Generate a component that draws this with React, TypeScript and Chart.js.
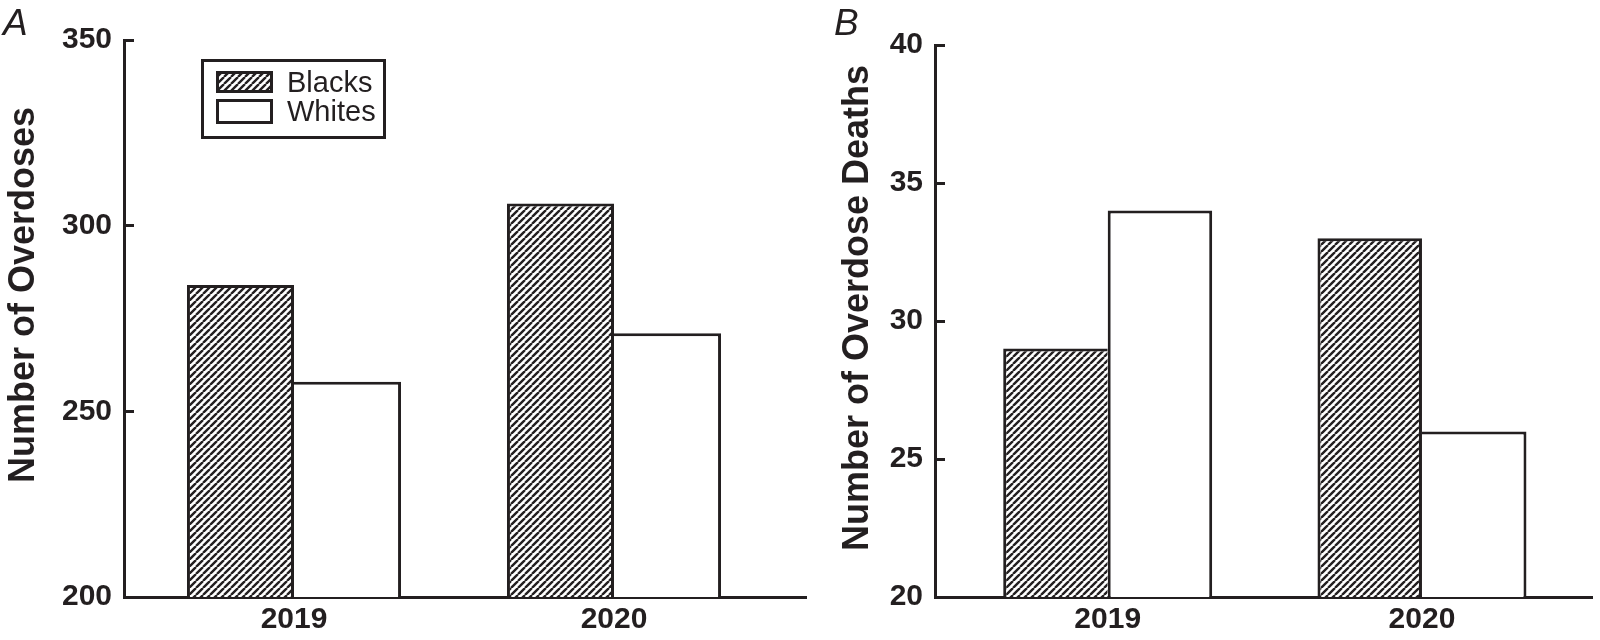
import React, { useEffect, useRef } from 'react';
import { Chart, registerables } from 'chart.js';

Chart.register(...registerables);

// ---------- data ----------
const years = [2019, 2020];
const seriesNames = ['Blacks', 'Whites'];
const overdosesBlacks = [284, 306];
const overdosesWhites = [258, 271];
const deathsBlacks = [29, 33];
const deathsWhites = [34, 26];
const overdoseTicks = [200, 250, 300, 350];
const deathTicks = [20, 25, 30, 35, 40];

// ---------- styles ----------
const INK = '#231f20';
const FONT = "'Liberation Sans', Arial, Helvetica, sans-serif";
const BW = 3;

function makeHatch(): CanvasPattern | string {
  const p = 7;
  const c = document.createElement('canvas');
  c.width = p;
  c.height = p;
  const g = c.getContext('2d');
  if (!g) return '#888';
  g.fillStyle = '#ffffff';
  g.fillRect(0, 0, p, p);
  g.strokeStyle = INK;
  g.lineWidth = 2.4;
  g.beginPath();
  for (const k of [-1, 0, 1]) {
    g.moveTo(k * p, p);
    g.lineTo(k * p + p, 0);
  }
  g.stroke();
  return g.createPattern(c, 'repeat') || '#888';
}

const decorPlugin = {
  id: 'panelDecor',
  afterDraw(chart: any, _args: any, opts: any) {
    const ctx = chart.ctx as CanvasRenderingContext2D;
    ctx.save();
    ctx.fillStyle = INK;
    // panel letter
    ctx.font = `italic 37px ${FONT}`;
    ctx.textAlign = 'left';
    ctx.textBaseline = 'alphabetic';
    ctx.fillText(opts.letter, opts.letterX, opts.letterY);
    // y axis title
    ctx.save();
    ctx.translate(opts.titleX, opts.titleY);
    ctx.rotate(-Math.PI / 2);
    ctx.font = `bold 36px ${FONT}`;
    ctx.textAlign = 'center';
    ctx.fillText(opts.title, 0, 0);
    ctx.restore();
    // legend
    if (opts.legend) {
      const bx = 201, by = 59, bw = 185, bh = 80;
      ctx.lineWidth = BW;
      ctx.strokeStyle = INK;
      ctx.fillStyle = '#ffffff';
      ctx.fillRect(bx, by, bw, bh);
      ctx.strokeRect(bx + BW / 2, by + BW / 2, bw - BW, bh - BW);
      const swatches = [
        { y: 71, h: 22, base: 92 },
        { y: 99, h: 25, base: 121 },
      ];
      chart.data.datasets.forEach((ds: any, i: number) => {
        const s = swatches[i];
        ctx.fillStyle = ds.backgroundColor;
        ctx.fillRect(216, s.y, 57, s.h);
        ctx.strokeStyle = ds.borderColor;
        ctx.lineWidth = BW;
        ctx.strokeRect(216 + BW / 2, s.y + BW / 2, 57 - BW, s.h - BW);
        ctx.fillStyle = INK;
        ctx.font = `29px ${FONT}`;
        ctx.textAlign = 'left';
        ctx.textBaseline = 'alphabetic';
        ctx.fillText(ds.label, 287, s.base);
      });
    }
    ctx.restore();
  },
};

interface PanelCfg {
  letter: string;
  title: string;
  blacks: number[];
  whites: number[];
  ticks: number[];
  width: number;
  axisWidth: number;
  padTop: number;
  padRight: number;
  xMin: number;
  xMax: number;
  catPct: number;
  legend: boolean;
  letterX: number;
  titleX: number;
  titleY: number;
}

const panels: PanelCfg[] = [
  {
    letter: 'A',
    title: 'Number of Overdoses',
    blacks: overdosesBlacks,
    whites: overdosesWhites,
    ticks: overdoseTicks,
    width: 810,
    axisWidth: 124,
    padTop: 37,
    padRight: 4,
    xMin: 2018.46875,
    xMax: 2020.6,
    catPct: 0.669,
    legend: true,
    letterX: 3,
    titleX: 34,
    titleY: 295,
  },
  {
    letter: 'B',
    title: 'Number of Overdose Deaths',
    blacks: deathsBlacks,
    whites: deathsWhites,
    ticks: deathTicks,
    width: 790,
    axisWidth: 125,
    padTop: 45,
    padRight: 8,
    xMin: 2018.4505,
    xMax: 2020.541,
    catPct: 0.665,
    legend: false,
    letterX: 24,
    titleX: 58,
    titleY: 308,
  },
];

function buildConfig(cfg: PanelCfg): any {
  const hatch = makeHatch();
  const tickFont = { family: FONT, size: 30, weight: 'bold' as const };
  return {
    type: 'bar',
    data: {
      labels: years.map(String),
      datasets: [
        {
          label: seriesNames[0],
          data: years.map((y, i) => ({ x: y, y: cfg.blacks[i] })),
          backgroundColor: hatch,
          borderColor: INK,
          borderWidth: (c: any) => ({
            top: BW,
            left: BW,
            bottom: 0,
            right: cfg.blacks[c.dataIndex] >= cfg.whites[c.dataIndex] ? BW : 0,
          }),
          borderSkipped: false,
          barPercentage: 1,
          categoryPercentage: cfg.catPct,
        },
        {
          label: seriesNames[1],
          data: years.map((y, i) => ({ x: y, y: cfg.whites[i] })),
          backgroundColor: '#ffffff',
          borderColor: INK,
          borderWidth: (c: any) => ({
            top: BW,
            right: BW,
            bottom: 0,
            left: cfg.whites[c.dataIndex] > cfg.blacks[c.dataIndex] ? BW : 0,
          }),
          borderSkipped: false,
          barPercentage: 1,
          categoryPercentage: cfg.catPct,
        },
      ],
    },
    options: {
      animation: false,
      responsive: false,
      maintainAspectRatio: false,
      layout: { padding: { left: 0, top: cfg.padTop, right: cfg.padRight, bottom: 0 } },
      plugins: {
        legend: { display: false },
        tooltip: { enabled: false },
        panelDecor: {
          letter: cfg.letter,
          letterX: cfg.letterX,
          letterY: 35,
          title: cfg.title,
          titleX: cfg.titleX,
          titleY: cfg.titleY,
          legend: cfg.legend,
        },
      },
      scales: {
        x: {
          type: 'linear',
          min: cfg.xMin,
          max: cfg.xMax,
          bounds: 'data',
          offset: false,
          grid: { display: false, drawTicks: false },
          border: { display: true, color: INK, width: BW },
          ticks: {
            color: INK,
            font: tickFont,
            padding: 5,
            maxRotation: 0,
            autoSkip: false,
            callback: (v: any) => String(v),
          },
          afterBuildTicks: (s: any) => {
            s.ticks = years.map((v) => ({ value: v }));
          },
          afterFit: (s: any) => {
            s.height = 43;
          },
        },
        y: {
          type: 'linear',
          min: cfg.ticks[0],
          max: cfg.ticks[cfg.ticks.length - 1],
          grid: {
            drawOnChartArea: false,
            drawTicks: true,
            tickLength: -10,
            color: INK,
            lineWidth: BW,
          },
          border: { display: true, color: INK, width: BW },
          ticks: { color: INK, font: tickFont, padding: 22 },
          afterBuildTicks: (s: any) => {
            s.ticks = cfg.ticks.map((v) => ({ value: v }));
          },
          afterFit: (s: any) => {
            s.width = cfg.axisWidth;
          },
        },
      },
    },
    plugins: [decorPlugin],
  };
}

function Panel({ cfg, left }: { cfg: PanelCfg; left: number }) {
  const ref = useRef<HTMLCanvasElement | null>(null);
  useEffect(() => {
    if (!ref.current) return;
    const chart = new Chart(ref.current, buildConfig(cfg));
    return () => chart.destroy();
  }, [cfg]);
  return (
    <canvas
      ref={ref}
      width={cfg.width}
      height={640}
      style={{ position: 'absolute', left, top: 0, width: cfg.width, height: 640 }}
    />
  );
}

export default function App() {
  return (
    <div style={{ position: 'absolute', left: 0, top: 0, width: 1600, height: 640, background: '#ffffff' }}>
      <Panel cfg={panels[0]} left={0} />
      <Panel cfg={panels[1]} left={810} />
    </div>
  );
}
